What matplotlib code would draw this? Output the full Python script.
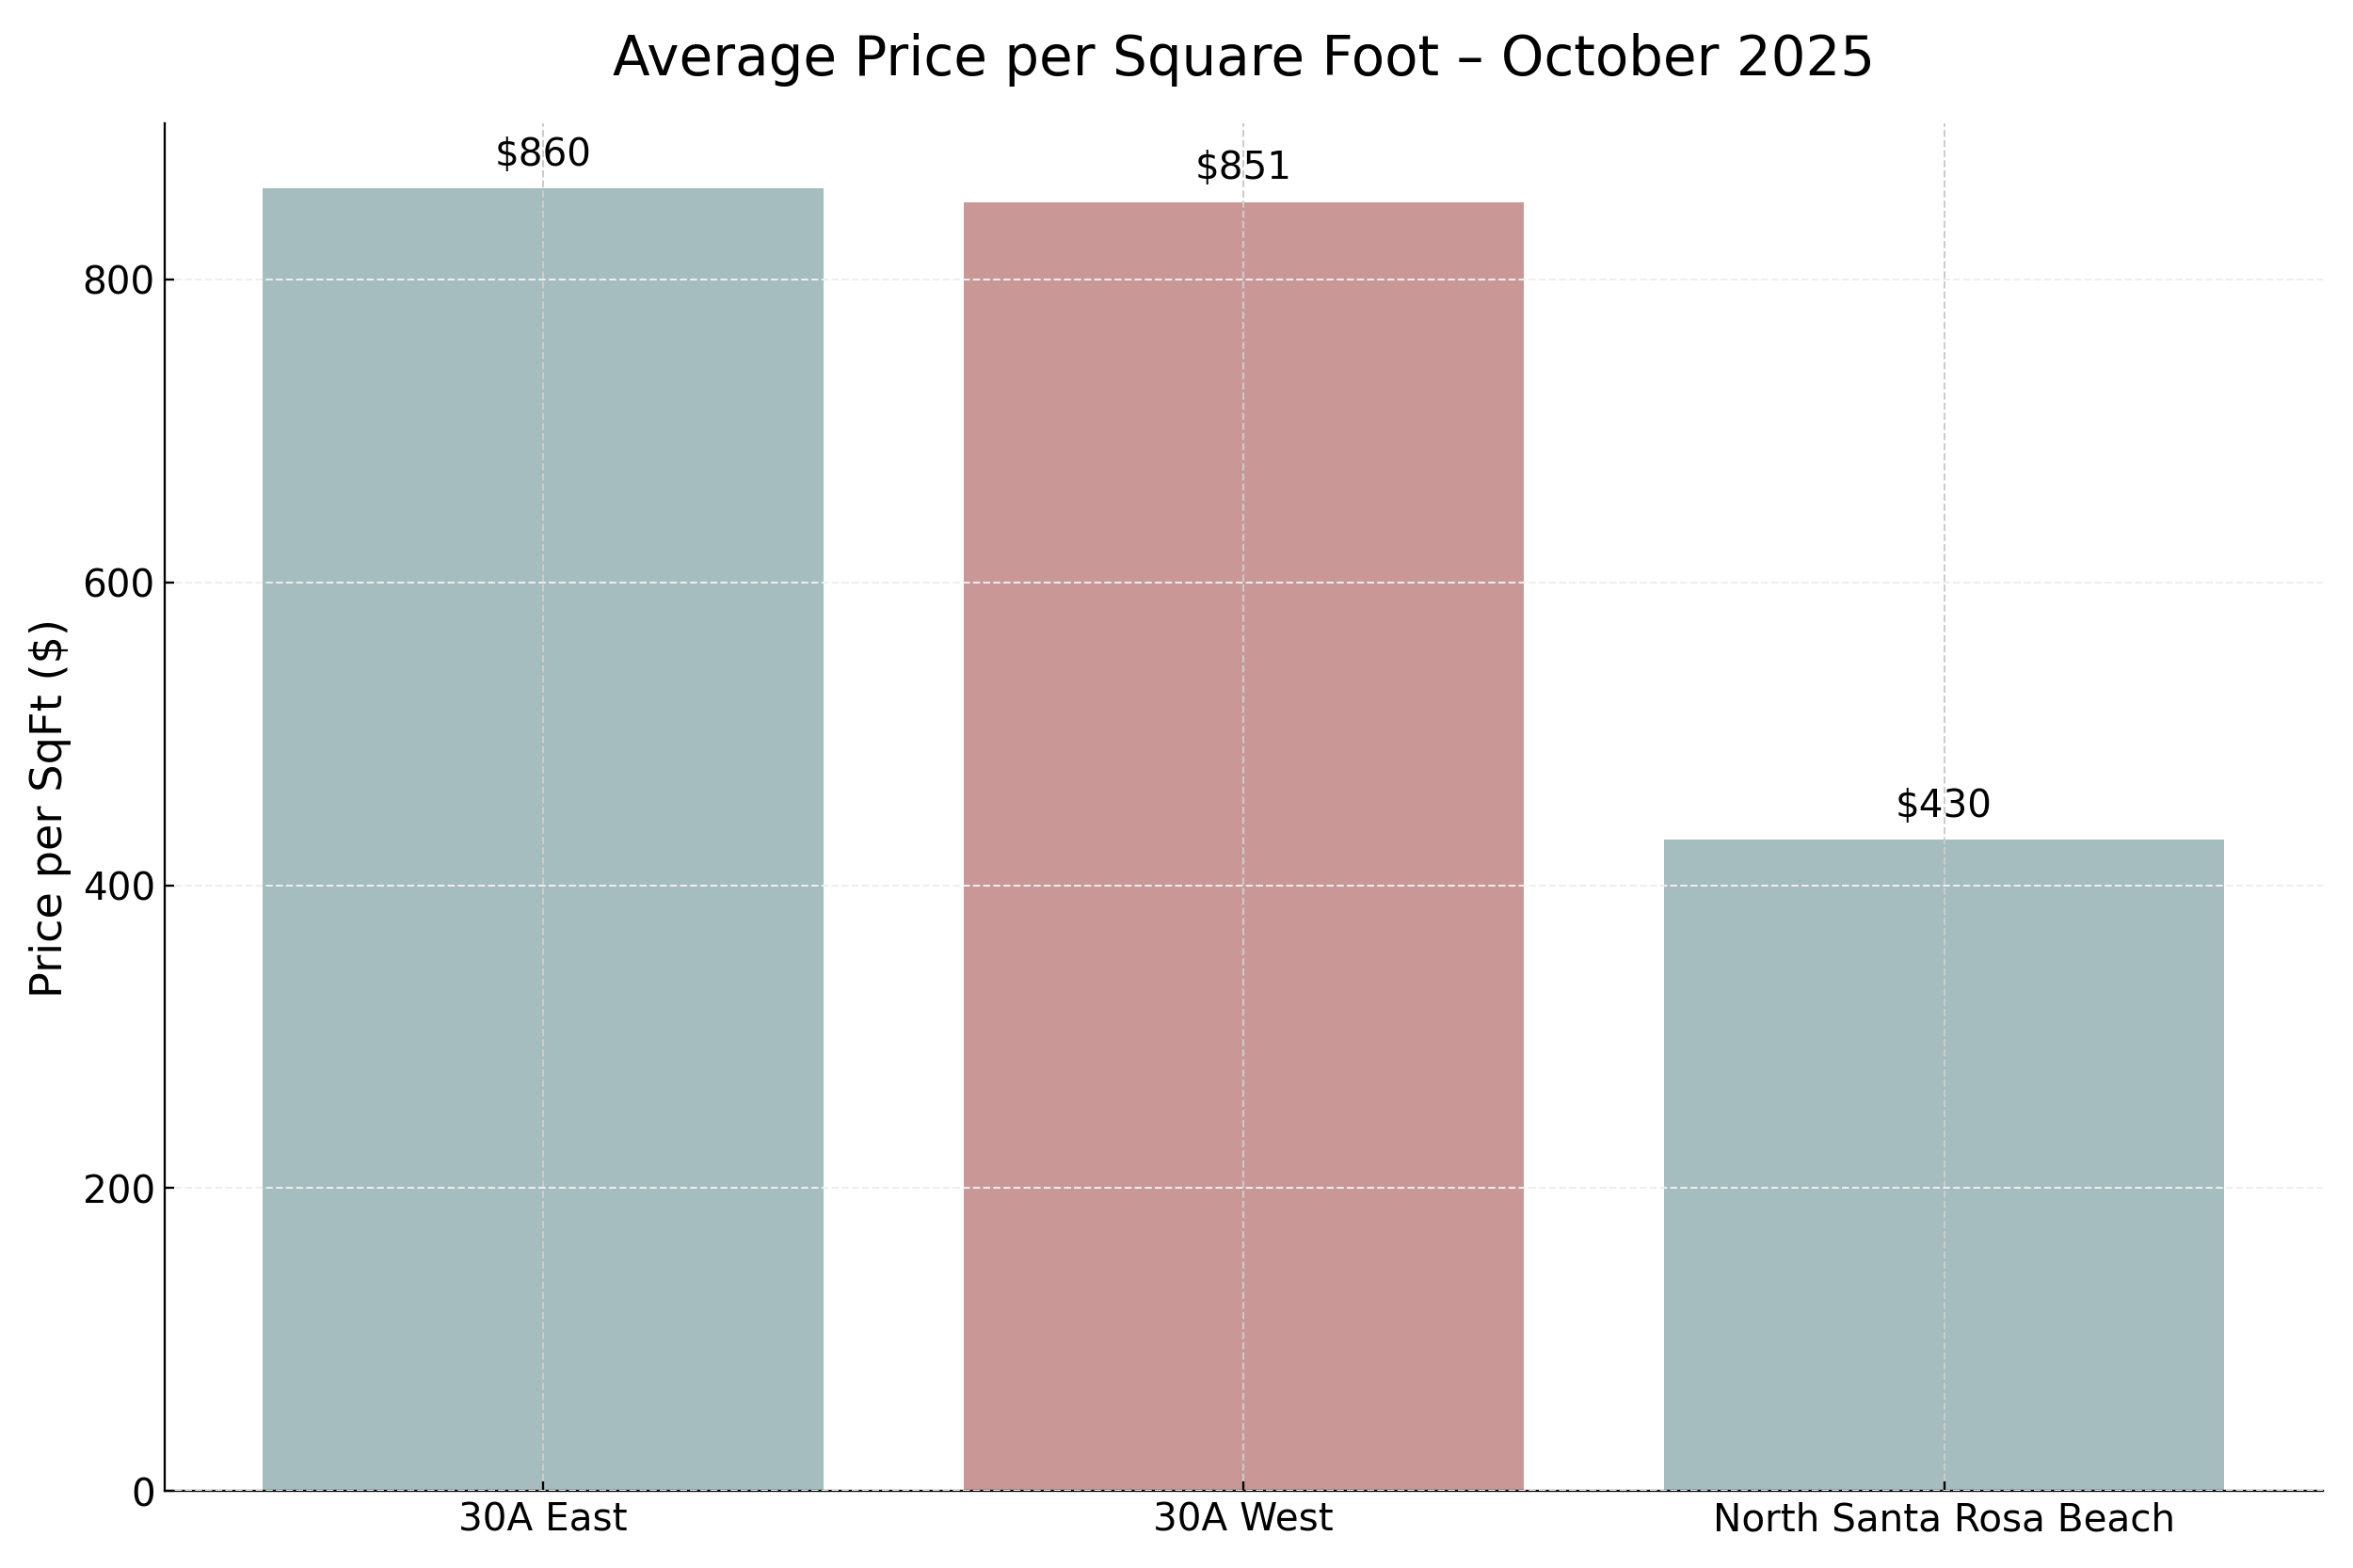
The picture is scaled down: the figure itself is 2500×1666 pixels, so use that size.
import matplotlib
matplotlib.use("Agg")
import matplotlib.pyplot as plt

# Donnees
regions = ["30A East", "30A West", "North Santa Rosa Beach"]
prices = [860, 851, 430]
bar_colors = ["#a5bdbf", "#c99796", "#a5bdbf"]

fig, ax = plt.subplots(figsize=(12, 8), dpi=2500 / 12)

bars = ax.bar(regions, prices, color=bar_colors, width=0.8)

# Etiquettes au-dessus des barres
for i, v in enumerate(prices):
    ax.text(i, v + 10, f"${v}", ha="center", va="bottom", fontsize=14)

ax.set_title("Average Price per Square Foot \u2013 October 2025", fontsize=20, pad=18)
ax.set_ylabel("Price per SqFt ($)", fontsize=16)
ax.set_ylim(0, max(prices) * 1.05)
ax.tick_params(axis="both", direction="in", labelsize=14)

ax.spines["top"].set_visible(False)
ax.spines["right"].set_visible(False)

ax.set_axisbelow(False)
ax.grid(axis="x", linestyle="--", color="#cccccc", linewidth=0.7)
ax.grid(axis="y", linestyle="--", color="#eeeeee", linewidth=0.7)

fig.subplots_adjust(left=0.07, right=0.987, top=0.921, bottom=0.049)
fig.savefig("out.png")
